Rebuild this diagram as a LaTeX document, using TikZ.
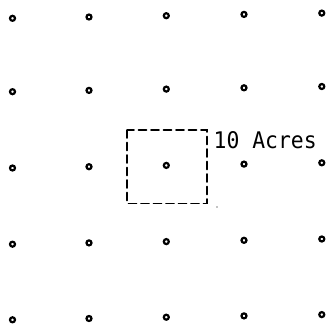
\documentclass[tikz,border=0pt]{standalone}
\usepackage{fontspec}
\newfontfamily\plotfont{DejaVu Sans Mono}

\begin{document}
\begin{tikzpicture}[
    x=1pt, y=-1pt,
    line cap=round,
    well/.style={draw=black, line width=2.2pt, fill=white},
    plot line/.style={dashed, dash pattern=on 8pt off 4.5pt, line width=1.6pt},
    label style/.style={font=\plotfont\fontsize{21.4}{24}\selectfont, yscale=1.07}
]
  % frame
  \useasboundingbox (0,0) rectangle (329,330);

  % grid of wells (rows lean up slightly to the right)
  \foreach \r/\yy in {1/18.3,2/91.7,3/168,4/244.2,5/319.8}{
    \foreach \c/\xx in {0/12.5,1/89,2/166.3,3/244,4/321.8}{
      \coordinate (w\r\c) at (\xx,\yy-1.3*\c);
      \draw[well] (w\r\c) circle (2.5pt);
    }
  }

  % 10 acre plot round the centre well
  \draw[plot line] (127,130) rectangle (207,203.5);
  \fill (217,207) circle (0.7pt);

  % Labels
  \node[label style, anchor=base west, inner sep=0pt] (acres) at (213.5,148.2) {10 Acres};
\end{tikzpicture}
\end{document}
